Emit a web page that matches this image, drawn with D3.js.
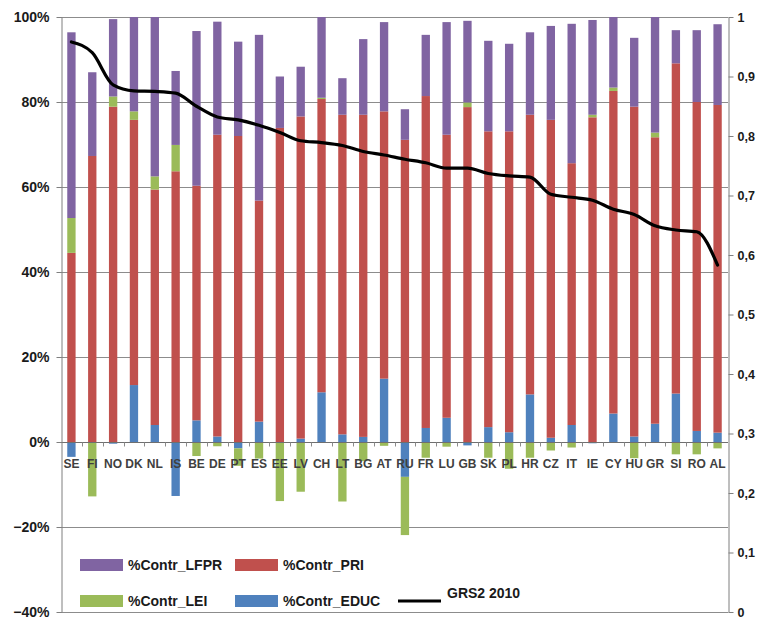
<!DOCTYPE html>
<html>
<head>
<meta charset="utf-8">
<script src="https://cdn.jsdelivr.net/npm/d3@7"></script>
<style>
  body { margin: 0; background: #fff; }
  svg { display: block; font-family: "Liberation Sans", Arial, sans-serif; }
</style>
</head>
<body>
<svg id="chart"></svg>
<script>
// DATA ////////////////////////////////////////////////////////////////
var countries = ["SE", "FI", "NO", "DK", "NL", "IS", "BE", "DE", "PT", "ES", "EE", "LV", "CH", "LT", "BG", "AT",
    "RU", "FR", "LU", "GB", "SK", "PL", "HR", "CZ", "IT", "IE", "CY", "HU", "GR", "SI", "RO", "AL"];

// contributions, in %
var contr_educ = [-3.5, 0, -0.4, 13.4, 4.0, -12.7, 5.1, 1.3, -1.5, 4.8, 0, 0.8, 11.7, 1.8, 1.2, 14.9,
    -8.2, 3.3, 5.7, -0.8, 3.5, 2.3, 11.2, 1.0, 4.0, -0.3, 6.7, 1.3, 4.3, 11.4, 2.6, 2.2];
var contr_pri = [44.5, 67.3, 78.9, 62.4, 55.4, 63.7, 55.2, 71.0, 72.0, 52.0, 73.9, 75.8, 69.0, 75.2, 75.8, 62.9,
    71.1, 78.1, 66.6, 78.8, 69.6, 70.8, 65.8, 74.8, 61.6, 76.4, 75.9, 77.6, 67.4, 77.7, 77.4, 77.1];
var contr_lei = [8.2, -12.8, 2.4, 2.0, 3.1, 6.2, -3.3, -1.0, -4.1, -3.9, -13.9, -11.7, 0.3, -14.0, -4.5, -0.9,
    -13.7, -3.7, -1.1, 1.1, -3.7, -6.3, -3.7, -2.0, -1.3, 0.6, 0.8, -3.8, 1.1, -2.9, -2.9, -1.5];
var contr_lfpr = [43.7, 19.7, 18.2, 22.2, 37.5, 17.4, 36.4, 26.6, 22.2, 39.0, 12.1, 11.7, 19.0, 8.6, 17.8, 21.0,
    7.2, 14.4, 26.5, 19.2, 21.3, 20.6, 19.4, 22.1, 32.8, 22.3, 16.6, 16.2, 27.2, 7.8, 16.9, 19.0];

// GRS2 2010 index (right axis)
var grs2 = [0.958, 0.940, 0.886, 0.876, 0.875, 0.872, 0.850, 0.832, 0.827, 0.818, 0.806, 0.792, 0.789, 0.784, 0.774, 0.768,
    0.761, 0.755, 0.746, 0.746, 0.737, 0.733, 0.731, 0.702, 0.697, 0.692, 0.677, 0.668, 0.649, 0.642, 0.639, 0.583];

var leftTicks = [-0.4, -0.2, 0, 0.2, 0.4, 0.6, 0.8, 1];
var rightTicks = [0, 0.1, 0.2, 0.3, 0.4, 0.5, 0.6, 0.7, 0.8, 0.9, 1];
var rightTickLabels = ["0", "0,1", "0,2", "0,3", "0,4", "0,5", "0,6", "0,7", "0,8", "0,9", "1"];

var seriesKeys = ["educ", "pri", "lei", "lfpr"];
var seriesNames = { educ: "%Contr_EDUC", pri: "%Contr_PRI", lei: "%Contr_LEI", lfpr: "%Contr_LFPR" };
var seriesColors = { educ: "#4F81BD", pri: "#C0504D", lei: "#9BBB59", lfpr: "#8064A2" };

// SETUP ///////////////////////////////////////////////////////////////
const WIDTH = 757, HEIGHT = 621;
const PLOT_LEFT = 61, PLOT_RIGHT = 728, PLOT_TOP = 17, PLOT_BOTTOM = 612;

var table = countries.map(function (c, i) {
    return { country: c, educ: contr_educ[i] / 100, pri: contr_pri[i] / 100, lei: contr_lei[i] / 100, lfpr: contr_lfpr[i] / 100 };
});

var svg = d3.select("#chart").attr("width", WIDTH).attr("height", HEIGHT);

var x = d3.scaleBand().domain(countries).range([PLOT_LEFT, PLOT_RIGHT]).paddingInner(0.6).paddingOuter(0.3);
var yL = d3.scaleLinear().domain([-0.4, 1]).range([PLOT_BOTTOM, PLOT_TOP]);
var yR = d3.scaleLinear().domain([0, 1]).range([PLOT_BOTTOM, PLOT_TOP]);

// gridlines
svg.append("g")
    .selectAll("line")
    .data(leftTicks.filter(function (d) { return d !== 0; }))
    .enter()
    .append("line")
    .attr("x1", PLOT_LEFT).attr("x2", PLOT_RIGHT)
    .attr("y1", function (d) { return Math.round(yL(d)) + 0.5; })
    .attr("y2", function (d) { return Math.round(yL(d)) + 0.5; })
    .attr("stroke", "#8c8c8c")
    .attr("stroke-width", 1);

// bars
var stack = d3.stack().keys(seriesKeys).offset(d3.stackOffsetDiverging);
var stacked = stack(table);

svg.append("g")
    .selectAll("g")
    .data(stacked)
    .enter()
    .append("g")
    .attr("fill", function (d) { return seriesColors[d.key]; })
    .selectAll("rect")
    .data(function (d) { return d; })
    .enter()
    .append("rect")
    .attr("x", function (d) { return x(d.data.country); })
    .attr("width", x.bandwidth())
    .attr("y", function (d) { return yL(Math.max(d[0], d[1])); })
    .attr("height", function (d) { return Math.abs(yL(d[0]) - yL(d[1])); });

// zero line with category ticks
var zeroY = Math.round(yL(0)) + 0.5;
svg.append("line")
    .attr("x1", PLOT_LEFT).attr("x2", PLOT_RIGHT)
    .attr("y1", zeroY).attr("y2", zeroY)
    .attr("stroke", "#6f6f6f");

var gap = (x.step() - x.bandwidth()) / 2;
var bounds = countries.map(function (c) { return x(c) - gap; }).slice(1);
svg.append("g")
    .selectAll("line")
    .data(bounds)
    .enter()
    .append("line")
    .attr("x1", function (d) { return Math.round(d) + 0.5; })
    .attr("x2", function (d) { return Math.round(d) + 0.5; })
    .attr("y1", zeroY).attr("y2", zeroY + 4)
    .attr("stroke", "#8c8c8c");

// line
var line = d3.line()
    .x(function (d, i) { return x(countries[i]) + x.bandwidth() / 2; })
    .y(function (d) { return yR(d); })
    .curve(d3.curveMonotoneX);

svg.append("path")
    .datum(grs2)
    .attr("d", line)
    .attr("fill", "none")
    .attr("stroke", "#000")
    .attr("stroke-width", 3.2)
    .attr("stroke-linejoin", "round")
    .attr("stroke-linecap", "round");

// category labels
svg.append("g")
    .selectAll("text")
    .data(countries)
    .enter()
    .append("text")
    .attr("x", function (d) { return x(d) + x.bandwidth() / 2; })
    .attr("y", 468)
    .attr("text-anchor", "middle")
    .style("font-size", "12px")
    .style("font-weight", "bold")
    .style("fill", "#404040")
    .text(function (d) { return d; });

// left axis
var leftAxis = svg.append("g")
    .attr("transform", "translate(" + (PLOT_LEFT + 0.5) + ",0)")
    .call(d3.axisLeft(yL).tickValues(leftTicks).tickFormat(d3.format(".0%")).tickSize(5).tickSizeOuter(0));
leftAxis.select(".domain").attr("stroke", "#7f7f7f");
leftAxis.selectAll(".tick line").attr("stroke", "#7f7f7f");
leftAxis.selectAll("text")
    .attr("x", -12)
    .style("font-size", "14px")
    .style("font-weight", "bold")
    .style("font-family", "'Liberation Sans', Arial, sans-serif")
    .style("fill", "#1a1a1a");

// right axis (labels kept narrow so they fit inside the frame)
var rightAxis = svg.append("g")
    .attr("transform", "translate(" + (PLOT_RIGHT + 0.5) + ",0)")
    .call(d3.axisRight(yR).tickValues(rightTicks)
        .tickFormat(function (d, i) { return rightTickLabels[i]; })
        .tickSize(5).tickSizeOuter(0));
rightAxis.select(".domain").attr("stroke", "#7f7f7f");
rightAxis.selectAll(".tick line").attr("stroke", "#7f7f7f");
rightAxis.selectAll("text")
    .attr("x", 9)
    .style("font-size", "12.5px")
    .style("font-weight", "bold")
    .style("font-family", "'Liberation Sans', Arial, sans-serif")
    .style("fill", "#1a1a1a");

// legend
var legendItems = [
    { key: "lfpr", x: 80, y: 565 },
    { key: "pri", x: 235, y: 565 },
    { key: "lei", x: 80, y: 601 },
    { key: "educ", x: 235, y: 601 }
];

var legend = svg.append("g");
legend.selectAll("rect")
    .data(legendItems)
    .enter()
    .append("rect")
    .attr("x", function (d) { return d.x; })
    .attr("y", function (d) { return d.y - 6; })
    .attr("width", 43)
    .attr("height", 12)
    .attr("fill", function (d) { return seriesColors[d.key]; });

legend.selectAll("text")
    .data(legendItems)
    .enter()
    .append("text")
    .attr("x", function (d) { return d.x + 48; })
    .attr("y", function (d) { return d.y + 5; })
    .style("font-size", "14px")
    .style("font-weight", "bold")
    .style("fill", "#1a1a1a")
    .text(function (d) { return seriesNames[d.key]; });

legend.append("line")
    .attr("x1", 398).attr("x2", 441)
    .attr("y1", 601).attr("y2", 601)
    .attr("stroke", "#000")
    .attr("stroke-width", 3);

legend.append("text")
    .attr("x", 447)
    .attr("y", 598)
    .style("font-size", "14px")
    .style("font-weight", "bold")
    .style("fill", "#1a1a1a")
    .text("GRS2 2010");
</script>
</body>
</html>
